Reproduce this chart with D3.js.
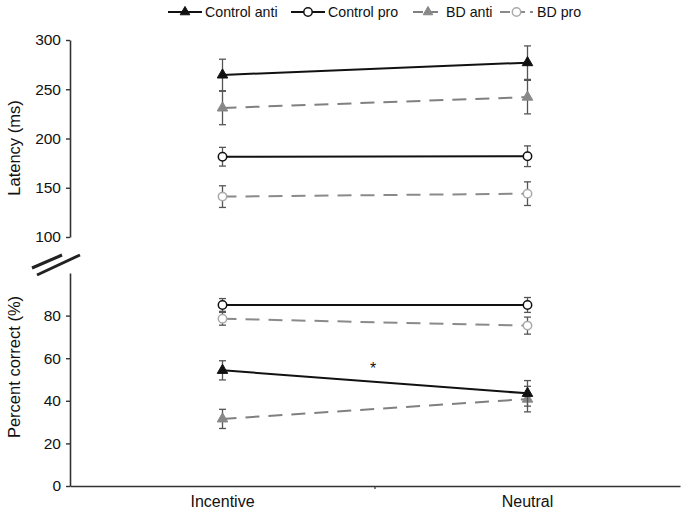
<!DOCTYPE html>
<html><head><meta charset="utf-8">
<script src="https://cdn.jsdelivr.net/npm/d3@7"></script>
<style>body{margin:0;background:#fff}svg{display:block}text{font-family:"Liberation Sans",Arial,sans-serif}</style>
</head><body><svg id="c" width="684" height="517"></svg>
<script>
const categories = ["Incentive", "Neutral"];
const seriesNames = ["Control anti", "Control pro", "BD anti", "BD pro"];
// Latency (ms)
const latControlAnti = [264.5, 277];
const latControlAntiErr = [16, 17];
const latControlPro = [181.5, 182];
const latControlProErr = [9.5, 10.5];
const latBDAnti = [231, 242];
const latBDAntiErr = [17, 17];
const latBDPro = [141, 144];
const latBDProErr = [11, 12];
// Percent correct (%)
const pcControlAnti = [54.3, 43.5];
const pcControlAntiErr = [4.5, 6];
const pcControlPro = [85, 85];
const pcControlProErr = [3, 3.5];
const pcBDAnti = [31.5, 40.8];
const pcBDAntiErr = [4.5, 6];
const pcBDPro = [78.5, 75.3];
const pcBDProErr = [3, 4];
const latTicks = [100, 150, 200, 250, 300];
const pcTicks = [0, 20, 40, 60, 80];

const styles = {
  "Control anti": {stroke:"#111", dash:null, marker:"tri", fill:"#111", mstroke:"#111"},
  "Control pro": {stroke:"#111", dash:null, marker:"circ", fill:"#fff", mstroke:"#111"},
  "BD anti": {stroke:"#808080", dash:"14,9", marker:"tri", fill:"#888", mstroke:"#888"},
  "BD pro": {stroke:"#8a8a8a", dash:"14,9", marker:"circ", fill:"#fff", mstroke:"#aaa"}
};
const latData = [
  {name:"Control anti", v:latControlAnti, e:latControlAntiErr},
  {name:"Control pro", v:latControlPro, e:latControlProErr},
  {name:"BD anti", v:latBDAnti, e:latBDAntiErr},
  {name:"BD pro", v:latBDPro, e:latBDProErr}
];
const pcData = [
  {name:"Control anti", v:pcControlAnti, e:pcControlAntiErr},
  {name:"Control pro", v:pcControlPro, e:pcControlProErr},
  {name:"BD anti", v:pcBDAnti, e:pcBDAntiErr},
  {name:"BD pro", v:pcBDPro, e:pcBDProErr}
];

const svg = d3.select("#c");
const x = d3.scaleBand().domain(categories).range([70, 680]);
const cx = c => x(c) + x.bandwidth()/2;
const yLat = d3.scaleLinear().domain([100, 300]).range([237, 40]);
const yPc = d3.scaleLinear().domain([0, 100]).range([486, 273]);

function drawAxis(scale, ticks, label, labelY) {
  const g = svg.append("g").attr("transform","translate(70,0)")
    .call(d3.axisLeft(scale).tickValues(ticks).tickSize(4).tickSizeOuter(0).tickPadding(5));
  g.select(".domain").attr("stroke","#333").attr("stroke-width",1.6);
  g.selectAll(".tick line").attr("stroke","#333").attr("stroke-width",1.4);
  g.selectAll(".tick text").attr("font-size",15.5).attr("fill","#111").attr("font-family","Liberation Sans, Arial, sans-serif");
  svg.append("text").attr("transform",`translate(20,${labelY}) rotate(-90)`)
    .attr("text-anchor","middle").attr("font-size",16.5).attr("fill","#111").text(label);
}
drawAxis(yLat, latTicks, "Latency (ms)", 148);
drawAxis(yPc, pcTicks, "Percent correct (%)", 367);

// x axis
const xa = svg.append("g").attr("transform","translate(0,486)")
  .call(d3.axisBottom(x).tickSize(0).tickPadding(10));
xa.select(".domain").attr("stroke","#333").attr("stroke-width",1.6);
xa.selectAll(".tick text").attr("font-size",16).attr("fill","#111").attr("font-family","Liberation Sans, Arial, sans-serif");
// middle tick between categories
svg.append("line").attr("x1",x(categories[1])).attr("x2",x(categories[1])).attr("y1",486).attr("y2",489).attr("stroke","#333").attr("stroke-width",1.2);

// break marks
svg.append("line").attr("x1",32).attr("y1",268).attr("x2",62).attr("y2",255).attr("stroke","#222").attr("stroke-width",3);
svg.append("line").attr("x1",37).attr("y1",275).attr("x2",80).attr("y2",255).attr("stroke","#222").attr("stroke-width",3);

function marker(g, type, px, py, st, size) {
  if (type === "tri") {
    g.append("path").attr("d", d3.symbol().type(d3.symbolTriangle).size(size||48)())
      .attr("transform",`translate(${px},${py})`).attr("fill",st.fill).attr("stroke",st.mstroke).attr("stroke-width",1);
  } else {
    g.append("circle").attr("cx",px).attr("cy",py).attr("r",4.2).attr("fill","#fff").attr("stroke",st.mstroke).attr("stroke-width",1.5);
  }
}

function drawPanel(data, y) {
  const drawOrder = ["BD pro","BD anti","Control pro","Control anti"];
  drawOrder.forEach(n => {
    const d = data.find(s => s.name === n);
    const st = styles[n];
    const g = svg.append("g");
    // error bars
    categories.forEach((c,i) => {
      const px = cx(c);
      g.append("line").attr("x1",px).attr("x2",px).attr("y1",y(d.v[i]-d.e[i])).attr("y2",y(d.v[i]+d.e[i])).attr("stroke","#555").attr("stroke-width",1.3);
      [d.v[i]-d.e[i], d.v[i]+d.e[i]].forEach(v => g.append("line").attr("x1",px-3.5).attr("x2",px+3.5).attr("y1",y(v)).attr("y2",y(v)).attr("stroke","#555").attr("stroke-width",1.3));
    });
    g.append("path").datum(d.v).attr("fill","none").attr("stroke",st.stroke).attr("stroke-width",2)
      .attr("stroke-dasharray",st.dash)
      .attr("d", d3.line().x((v,i)=>cx(categories[i])).y(v=>y(v)));
    categories.forEach((c,i) => marker(g, st.marker, cx(c), y(d.v[i]), st));
  });
}
drawPanel(latData, yLat);
drawPanel(pcData, yPc);

// asterisk
svg.append("text").attr("x",x(categories[1])-2).attr("y",374).attr("text-anchor","middle").attr("font-size",16).attr("fill","#111").attr("font-family","Liberation Serif, serif").text("*");

// legend
const legX = [[168,202,205],[291,325,328],[413,443,446],[500,533,537]];
seriesNames.forEach((n,i) => {
  const st = styles[n];
  const [a,b,t] = legX[i];
  const g = svg.append("g");
  g.append("line").attr("x1",a).attr("x2",b).attr("y1",12).attr("y2",12).attr("stroke",st.stroke).attr("stroke-width",2).attr("stroke-dasharray",st.dash?"10,5":null);
  marker(g, st.marker, (a+b)/2, 12, st, 40);
  g.append("text").attr("x",t).attr("y",17).attr("font-size",14.2).attr("fill","#111").text(n);
});
</script></body></html>
